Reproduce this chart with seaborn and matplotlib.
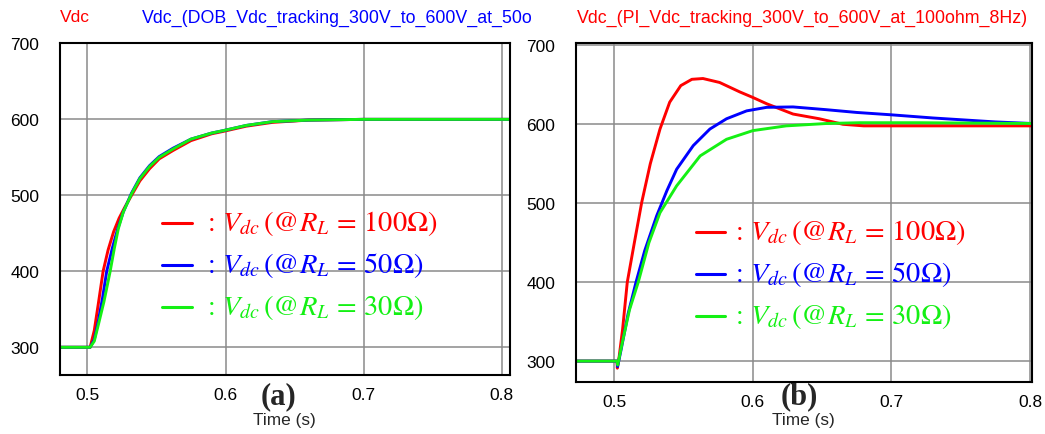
import numpy as np
import pandas as pd
import matplotlib
matplotlib.use("Agg")
import matplotlib.pyplot as plt
import seaborn as sns

sns.set_theme(style="white")
plt.rcParams['font.family'] = ['Liberation Sans', 'DejaVu Sans']
plt.rcParams['mathtext.fontset'] = 'stix'

# ---------------- data ----------------
series_names = ["100ohm", "50ohm", "30ohm"]
series_colors = ["#FF0000", "#0000FF", "#14F014"]
legend_labels = [r"$:\,V_{dc}\,(@R_L\,=\,100\Omega)$",
                 r"$:\,V_{dc}\,(@R_L\,=\,50\Omega)$",
                 r"$:\,V_{dc}\,(@R_L\,=\,30\Omega)$"]

# (a) DOB controller
a_red_t = [0.480, 0.502, 0.505, 0.508, 0.5114, 0.515, 0.519, 0.523, 0.527, 0.532, 0.538,
           0.545, 0.552, 0.562, 0.575, 0.590, 0.598, 0.615, 0.634, 0.660, 0.700, 0.806]
a_red_v = [300, 300, 322, 358, 400, 428, 452, 470, 484, 500, 519,
           535, 548, 559, 572, 581, 584, 591, 596, 599, 600, 600]
a_blue_t = [0.480, 0.502, 0.505, 0.508, 0.511, 0.514, 0.518, 0.522, 0.526, 0.532, 0.538,
            0.545, 0.552, 0.562, 0.575, 0.590, 0.598, 0.615, 0.634, 0.660, 0.700, 0.806]
a_blue_v = [300, 300, 310, 335, 365, 400, 430, 456, 478, 503, 523,
            539, 551, 562, 574, 582, 585, 592, 597, 599, 600, 600]
a_green_t = [0.480, 0.502, 0.505, 0.508, 0.512, 0.5165, 0.5195, 0.5224, 0.526, 0.532, 0.538,
             0.545, 0.552, 0.562, 0.575, 0.590, 0.598, 0.615, 0.634, 0.660, 0.700, 0.806]
a_green_v = [300, 300, 308, 330, 360, 400, 430, 456, 478, 502, 522,
             538, 550, 561, 574, 582, 585, 592, 597, 599, 600, 600]

# (b) PI controller
b_red_t = [0.4724, 0.502, 0.5022, 0.5035, 0.506, 0.5094, 0.5145, 0.5198, 0.526, 0.533, 0.540,
           0.548, 0.556, 0.564, 0.576, 0.5906, 0.600, 0.610, 0.629, 0.648, 0.665, 0.680, 0.8014]
b_red_v = [300, 300, 291, 305, 340, 400, 450, 501, 550, 594, 628,
           649, 657, 658, 653, 641, 634, 626, 613, 607, 600, 598, 598]
b_blue_t = [0.4724, 0.502, 0.5024, 0.505, 0.510, 0.5157, 0.522, 0.5306, 0.538, 0.545, 0.557,
            0.569, 0.581, 0.5955, 0.610, 0.629, 0.653, 0.675, 0.700, 0.730, 0.775, 0.8014]
b_blue_v = [300, 300, 293, 315, 360, 400, 440, 484, 516, 543, 573,
            594, 607, 617, 621.5, 622, 618.5, 615, 612, 608, 603, 601]
b_green_t = [0.4724, 0.502, 0.5025, 0.506, 0.511, 0.5173, 0.525, 0.533, 0.545, 0.562, 0.581,
             0.600, 0.624, 0.653, 0.677, 0.720, 0.8014]
b_green_v = [300, 300, 295, 325, 365, 400, 450, 488, 522, 560, 581,
             592, 598, 601, 602, 602, 601]

x_ticks = [0.5, 0.6, 0.7, 0.8]
x_tick_labels = ["0.5", "0.6", "0.7", "0.8"]
y_ticks = [300, 400, 500, 600, 700]
y_tick_labels = ["300", "400", "500", "600", "700"]


def make_df(ts, vs):
    frames = []
    for name, t, v in zip(series_names, ts, vs):
        frames.append(pd.DataFrame({"t": t, "v": v, "series": name}))
    return pd.concat(frames, ignore_index=True)


df_a = make_df([a_red_t, a_blue_t, a_green_t], [a_red_v, a_blue_v, a_green_v])
df_b = make_df([b_red_t, b_blue_t, b_green_t], [b_red_v, b_blue_v, b_green_v])

W, H = 1045, 435
fig = plt.figure(figsize=(W / 100, H / 100), dpi=100)
fig.patch.set_facecolor("white")

ax_a = fig.add_axes([60 / W, 1 - 376 / H, 450 / W, 332 / H])
ax_b = fig.add_axes([576 / W, 1 - 383 / H, 456 / W, 339 / H])

palette = dict(zip(series_names, series_colors))

for ax, df, xlim, ylim in [(ax_a, df_a, (0.4802, 0.8059), (263.5, 700.5)),
                           (ax_b, df_b, (0.4724, 0.8014), (273.5, 703))]:
    sns.lineplot(data=df, x="t", y="v", hue="series", palette=palette,
                 hue_order=series_names, estimator=None, sort=False,
                 legend=False, linewidth=2.1, ax=ax)
    ax.set_xlim(*xlim)
    ax.set_ylim(*ylim)
    ax.set_xticks(x_ticks)
    ax.set_xticklabels(x_tick_labels)
    ax.set_yticks(y_ticks)
    ax.set_yticklabels(y_tick_labels)
    ax.grid(True, color="#8a8a8a", linewidth=1.1)
    ax.set_axisbelow(True)
    ax.tick_params(axis="both", length=0, labelsize=12.5, colors="black")
    ax.tick_params(axis="y", pad=15)
    ax.tick_params(axis="x", pad=9)
    ax.set_xlabel("")
    ax.set_ylabel("")
    for s in ax.spines.values():
        s.set_visible(True)
        s.set_color("black")
        s.set_linewidth(1.5)

# legend-like annotations inside the axes
def add_legend(ax, x_line0, x_line1, x_text, ys):
    inv = ax.transAxes.inverted()
    for lab, col, yy in zip(legend_labels, series_colors, ys):
        (ax0, ay), (ax1, _) = inv.transform([(x_line0, H - yy), (x_line1, H - yy)])
        ax.plot([ax0, ax1], [ay, ay], color=col, linewidth=2.2, transform=ax.transAxes)
        tx, _ = inv.transform((x_text, H - yy))
        ax.text(tx, ay, lab, color=col, fontsize=20.5, transform=ax.transAxes,
                ha="left", va="center")


fig.canvas.draw()
add_legend(ax_a, 162, 192, 203, [224, 266, 308])
add_legend(ax_b, 696, 725, 731, [233, 275, 317])

# titles
fig.text(60 / W, 1 - 18 / H, "Vdc", color="#FF0000", fontsize=12.5, ha="left", va="center")
fig.text(142 / W, 1 - 18 / H, "Vdc_(DOB_Vdc_tracking_300V_to_600V_at_50o",
         color="#0000FF", fontsize=12.8, ha="left", va="center")
fig.text(577 / W, 1 - 18 / H, "Vdc_(PI_Vdc_tracking_300V_to_600V_at_100ohm_8Hz)",
         color="#FF0000", fontsize=12.8, ha="left", va="center")

# x labels
fig.text(284 / W, 1 - 421 / H, "Time (s)", fontsize=12.4, ha="center", va="center")
fig.text(803 / W, 1 - 421 / H, "Time (s)", fontsize=12.4, ha="center", va="center")

# panel letters
fig.text(278 / W, 1 - 397 / H, "(a)", fontsize=22, fontweight="bold",
         family=["Liberation Serif", "DejaVu Serif"], ha="center", va="center")
fig.text(799 / W, 1 - 397 / H, "(b)", fontsize=22, fontweight="bold",
         family=["Liberation Serif", "DejaVu Serif"], ha="center", va="center")

fig.savefig("out.png", dpi=100, facecolor="white")
